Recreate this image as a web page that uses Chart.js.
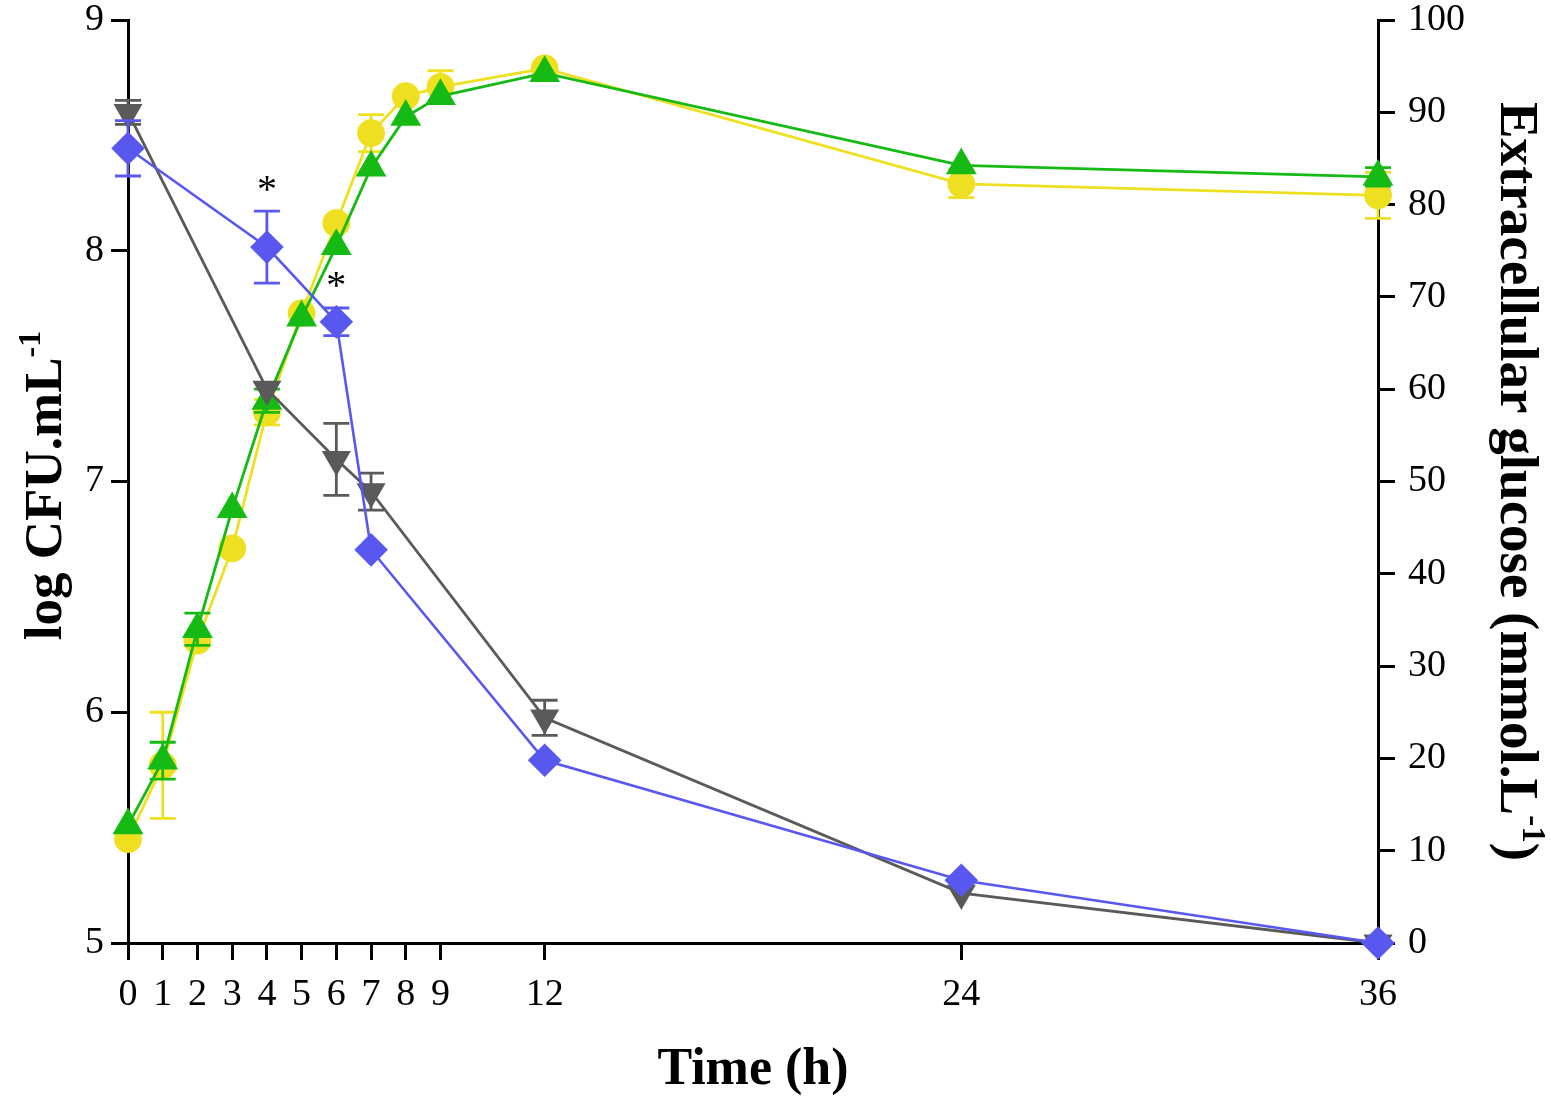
<!DOCTYPE html>
<html>
<head>
<meta charset="utf-8">
<script src="https://cdn.jsdelivr.net/npm/chart.js@4"></script>
<style>
  html, body { margin: 0; padding: 0; background: #fff; }
  #wrap { width: 1551px; height: 1097px; }
</style>
</head>
<body>
<div id="wrap"><canvas id="chart" width="1551" height="1097"></canvas></div>
<script>
// time points (h)
const hours = [0, 1, 2, 3, 4, 5, 6, 7, 8, 9, 12, 24, 36]
const xTicks = [0, 1, 2, 3, 4, 5, 6, 7, 8, 9, 12, 24, 36]

// log CFU.mL-1 (left axis)
const yellowCfu = [5.45, 5.77, 6.31, 6.71, 7.30, 7.73, 8.12, 8.51, 8.67, 8.71, 8.79, 8.29, 8.24]
const yellowErr = [0, 0.23, 0, 0, 0.055, 0, 0, 0.08, 0, 0.07, 0, 0.06, 0.1]
const greenCfu = [5.51, 5.79, 6.36, 6.88, 7.35, 7.71, 8.02, 8.36, 8.58, 8.67, 8.77, 8.37, 8.32]
const greenErr = [0, 0.08, 0.07, 0, 0.05, 0, 0, 0, 0, 0, 0, 0, 0.04]

// extracellular glucose mmol.L-1 (right axis)
const glucoseHours = [0, 4, 6, 7, 12, 24, 36]
const grayGlucose = [90.0, 60.0, 52.4, 48.9, 24.4, 5.4, 0]
const grayErr = [1.3, 0, 3.9, 2.0, 1.9, 0, 0]
const blueGlucose = [86.1, 75.4, 67.3, 42.6, 19.8, 6.8, 0]
const blueErr = [3.0, 3.9, 1.5, 0, 0, 0, 0]

// significance marks on the blue series
const sigHours = [4, 6]

// axis titles, split where the superscript goes
const leftTitle = [['log CFU.mL', false], ['-1', true]]
const rightTitle = [['Extracellular glucose (mmol.L', false], ['-1', true], [')', false]]

const FONT = "'Liberation Serif', 'Times New Roman', serif"
Chart.defaults.font.family = FONT
Chart.defaults.color = '#000'

const toXY = (xs, ys) => ys.map((y, i) => ({x: xs[i], y}))

const errorBars = {
    id: 'errorBars',
    beforeDatasetDraw(chart, args) {
        const ds = chart.data.datasets[args.index]
        if (!ds.errors) return
        const yScale = chart.scales[ds.yAxisID]
        const ctx = chart.ctx
        ctx.save()
        ctx.strokeStyle = ds.borderColor
        ctx.lineWidth = 2.8
        args.meta.data.forEach((pt, i) => {
            const e = ds.errors[i]
            if (!e) return
            const v = ds.data[i].y
            const top = yScale.getPixelForValue(v + e)
            const bot = yScale.getPixelForValue(v - e)
            ctx.beginPath()
            ctx.moveTo(pt.x, top); ctx.lineTo(pt.x, bot)
            ctx.moveTo(pt.x - 13, top); ctx.lineTo(pt.x + 13, top)
            ctx.moveTo(pt.x - 13, bot); ctx.lineTo(pt.x + 13, bot)
            ctx.stroke()
        })
        ctx.restore()
    }
}

const stars = {
    id: 'stars',
    afterDatasetsDraw(chart) {
        const ctx = chart.ctx
        const x = chart.scales.x, y1 = chart.scales.y1
        ctx.save()
        ctx.fillStyle = '#000'
        ctx.font = '40px ' + FONT
        ctx.textAlign = 'center'
        ctx.textBaseline = 'middle'
        sigHours.forEach(h => {
            const i = glucoseHours.indexOf(h)
            const top = y1.getPixelForValue(blueGlucose[i] + blueErr[i])
            ctx.fillText('*', x.getPixelForValue(h), top - 20)
        })
        ctx.restore()
    }
}

// rotated axis title with a real superscript
const drawTitle = (ctx, cx, cy, rot, parts, size) => {
    const mainFont = `bold ${size}px ${FONT}`
    const supFont = `bold ${Math.round(size * 0.6)}px ${FONT}`
    const widths = parts.map(([t, sup]) => { ctx.font = sup ? supFont : mainFont; return ctx.measureText(t).width })
    const total = widths.reduce((a, b) => a + b, 0)
    ctx.save()
    ctx.translate(cx, cy)
    ctx.rotate(rot)
    ctx.fillStyle = '#000'
    ctx.textAlign = 'left'
    ctx.textBaseline = 'alphabetic'
    let x = -total / 2
    const base = size * 0.33
    parts.forEach(([t, sup], i) => {
        ctx.font = sup ? supFont : mainFont
        ctx.fillText(t, x, sup ? base - size * 0.4 : base)
        x += widths[i]
    })
    ctx.restore()
}

const yTitles = {
    id: 'yTitles',
    afterDraw(chart) {
        const {top, bottom} = chart.chartArea
        const mid = (top + bottom) / 2
        drawTitle(chart.ctx, 44, mid + 4, -Math.PI / 2, leftTitle, 53)
        drawTitle(chart.ctx, 1519, mid, Math.PI / 2, rightTitle, 55)
    }
}

const axisCommon = {
    grid: {drawOnChartArea: false, drawTicks: true, tickLength: 17, tickWidth: 3, tickColor: '#000'},
    border: {display: true, color: '#000', width: 3}
}

const noPad = s => { s.paddingTop = 0; s.paddingBottom = 0 }

let chart = new Chart(document.getElementById('chart'), {
    type: 'line',
    data: {
        datasets: [
            {
                label: 'glucose 2',
                data: toXY(glucoseHours, blueGlucose),
                errors: blueErr,
                borderColor: 'rgb(88, 88, 240)',
                backgroundColor: 'rgb(88, 88, 240)',
                pointStyle: 'rectRot',
                pointRadius: 15,
                borderWidth: 2.6,
                yAxisID: 'y1',
                order: 1
            },
            {
                label: 'glucose 1',
                data: toXY(glucoseHours, grayGlucose),
                errors: grayErr,
                borderColor: 'rgb(90, 90, 90)',
                backgroundColor: 'rgb(90, 90, 90)',
                pointStyle: 'triangle',
                rotation: 180,
                pointRadius: 14,
                borderWidth: 2.8,
                yAxisID: 'y1',
                order: 2
            },
            {
                label: 'CFU 2',
                data: toXY(hours, greenCfu),
                errors: greenErr,
                borderColor: 'rgb(22, 186, 20)',
                backgroundColor: 'rgb(22, 186, 20)',
                pointStyle: 'triangle',
                pointRadius: 15,
                borderWidth: 2.8,
                yAxisID: 'y',
                order: 3
            },
            {
                label: 'CFU 1',
                data: toXY(hours, yellowCfu),
                errors: yellowErr,
                borderColor: 'rgb(238, 224, 32)',
                backgroundColor: 'rgb(238, 224, 32)',
                pointStyle: 'circle',
                pointRadius: 12.5,
                borderWidth: 2.8,
                yAxisID: 'y',
                order: 4
            }
        ]
    },
    options: {
        responsive: false,
        devicePixelRatio: 1,
        animation: false,
        clip: false,
        layout: {padding: {top: 20, left: 0, right: 0, bottom: 0}},
        elements: {
            line: {tension: 0, fill: false},
            point: {borderWidth: 0, hoverRadius: 12}
        },
        plugins: {legend: {display: false}, tooltip: {enabled: false}},
        scales: {
            x: {
                type: 'linear',
                position: 'bottom',
                min: 0,
                max: 36,
                afterBuildTicks: s => { s.ticks = xTicks.map(v => ({value: v})) },
                afterFit: s => { s.height = 154; s.paddingLeft = 0; s.paddingRight = 0 },
                ticks: {font: {size: 38}, color: '#000', padding: 12, autoSkip: false, maxRotation: 0},
                title: {display: true, text: 'Time (h)', font: {size: 52, weight: 'bold', lineHeight: 1}, color: '#000', padding: 0},
                ...axisCommon
            },
            y: {
                position: 'left',
                min: 5,
                max: 9,
                afterFit: s => { s.width = 128; noPad(s) },
                ticks: {stepSize: 1, font: {size: 38}, color: '#000', padding: 7},
                title: {display: false},
                ...axisCommon
            },
            y1: {
                position: 'right',
                min: 0,
                max: 100,
                afterFit: s => { s.width = 173; noPad(s) },
                ticks: {stepSize: 10, font: {size: 38}, color: '#000', padding: 13},
                title: {display: false},
                ...axisCommon
            }
        }
    },
    plugins: [errorBars, stars, yTitles]
})
</script>
</body>
</html>
